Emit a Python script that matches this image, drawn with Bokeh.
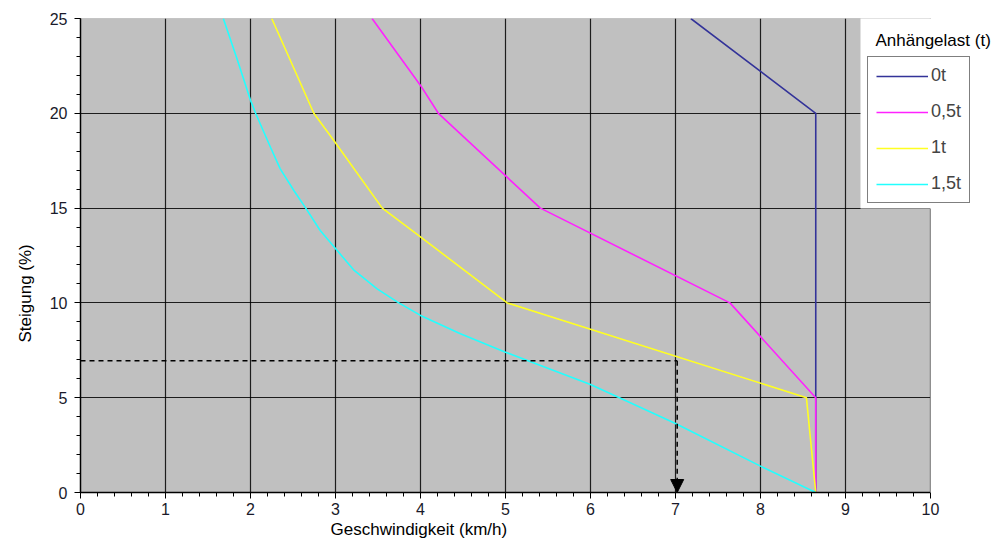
from bokeh.plotting import figure
from bokeh.models import (Range1d, SingleIntervalTicker, Legend, LegendItem, Label, Title,
                          BoxAnnotation, Arrow, NormalHead)
from bokeh.embed import file_html
from bokeh.resources import INLINE

# ---- data (speed km/h, gradient %) ----
speed_0t = [7.18, 8.65, 8.65]
slope_0t = [25.0, 20.0, 0.0]

speed_05t = [3.43, 4.0, 4.21, 5.41, 7.64, 8.65, 8.65]
slope_05t = [25.0, 21.47, 20.0, 15.0, 10.0, 5.0, 0.0]

speed_1t = [2.25, 2.745, 2.98, 3.55, 3.98, 5.02, 8.54, 8.65]
slope_1t = [25.0, 20.0, 18.57, 15.0, 13.55, 10.0, 5.0, 0.0]

speed_15t = [1.68, 1.84, 2.0, 2.06, 2.235, 2.35, 2.51, 2.65, 2.82, 2.98, 3.22, 3.49, 3.73,
             4.0, 4.47, 5.0, 6.0, 7.0, 8.0, 8.65]
slope_15t = [25.0, 22.89, 20.69, 20.0, 18.21, 17.07, 15.93, 15.0, 13.82, 12.97, 11.71, 10.74, 10.04,
             9.34, 8.37, 7.40, 5.70, 3.64, 1.39, 0.0]

series_labels = ["0t", "0,5t", "1t", "1,5t"]
series_colors = ["#333399", "#FF22FF", "#FFFF22", "#22FFFF"]

x_axis_range = (0, 10)
y_axis_range = (0, 25)

guide_speed = 7.02
guide_slope = 6.95

FONT = "Liberation Sans"

W, H = 996, 544
BL, BT, BB = 80, 18, 52          # borders left / top / bottom
frame_w = W - BL
x_end = x_axis_range[1] * frame_w / 850.0   # axis 0..10 occupies 850 px, frame runs to the edge

p = figure(width=W, height=H, output_backend="svg", toolbar_location=None,
           x_range=Range1d(x_axis_range[0], x_end), y_range=Range1d(*y_axis_range))
p.min_border_left = BL
p.min_border_right = 0
p.min_border_top = BT
p.min_border_bottom = BB
p.background_fill_color = "white"
p.border_fill_color = "white"
p.outline_line_color = None

# grey plotting area (0..10 x 0..25)
p.quad(left=[x_axis_range[0]], right=[x_axis_range[1]], bottom=[y_axis_range[0]], top=[y_axis_range[1]],
       fill_color="#C0C0C0", line_color="#999999", line_width=1, level="image")

p.xaxis.ticker = SingleIntervalTicker(interval=1, num_minor_ticks=5)
p.yaxis.ticker = SingleIntervalTicker(interval=5, num_minor_ticks=5)
p.xaxis.bounds = x_axis_range
p.yaxis.bounds = y_axis_range
for ax in (p.xaxis, p.yaxis):
    ax.axis_line_color = "black"
    ax.axis_line_width = 1.5
    ax.major_tick_line_color = "black"
    ax.minor_tick_line_color = "black"
    ax.major_tick_out = 6
    ax.major_tick_in = 0
    ax.minor_tick_out = 4
    ax.minor_tick_in = 0
    ax.major_label_text_font = FONT
    ax.major_label_text_font_size = "16px"
    ax.major_label_text_color = "#1a1a2a"
p.yaxis.major_label_standoff = 7
p.xaxis.major_label_standoff = 4

p.grid.grid_line_color = "black"
p.grid.grid_line_width = 1.2
p.grid.grid_line_alpha = 0.85

xs = [speed_0t, speed_05t, speed_1t, speed_15t]
ys = [slope_0t, slope_05t, slope_1t, slope_15t]
renderers = []
for x, y, c in zip(xs, ys, series_colors):
    r = p.line(x, y, line_color=c, line_width=1.6)
    renderers.append(r)

# dashed guide
p.line([0, guide_speed], [guide_slope, guide_slope], line_color="black",
       line_dash="5 4", line_width=1.5)
p.add_layout(Arrow(end=NormalHead(size=13, fill_color="black", line_color="black"),
                   x_start=guide_speed, y_start=guide_slope, x_end=guide_speed, y_end=0,
                   line_color="black", line_dash="5 4", line_width=1.5))

# white area right of the axis range (hides horizontal grid beyond x=10), with grey edge at x=10
p.add_layout(BoxAnnotation(left=x_axis_range[1], right=x_end * 2, bottom=-100, top=100,
                           fill_color="white", fill_alpha=1.0, line_color="#999999", line_width=1))

# white legend backdrop over the frame corner
p.add_layout(BoxAnnotation(left=780, right=2000, bottom=284, top=600,
                           left_units="screen", right_units="screen",
                           bottom_units="screen", top_units="screen",
                           fill_color="white", fill_alpha=1.0, line_alpha=0))

p.add_layout(Label(x=795, y=452, x_units="screen", y_units="screen",
                   text="Anhängelast (t)", text_font=FONT, text_font_size="17px",
                   text_color="black", text_baseline="middle", text_align="left"))

legend = Legend(items=[LegendItem(label=l, renderers=[r]) for l, r in zip(series_labels, renderers)],
                location=(787, 289), margin=0, padding=8, spacing=15,
                glyph_width=52, glyph_height=20, label_height=20, label_standoff=3,
                label_text_font=FONT, label_text_font_size="18px",
                border_line_color="black", border_line_width=1,
                background_fill_color="white", background_fill_alpha=1.0)
p.add_layout(legend, "center")

# axis titles
p.add_layout(Title(text="Geschwindigkeit (km/h)", align="left", offset=250,
                   text_font=FONT, text_font_size="17px", text_font_style="normal",
                   text_color="black", standoff=0), "below")
p.add_layout(Title(text="Steigung (%)", align="left", offset=150,
                   text_font=FONT, text_font_size="17px", text_font_style="normal",
                   text_color="black", standoff=23), "left")

open("out.html", "w").write(file_html(p, INLINE))
